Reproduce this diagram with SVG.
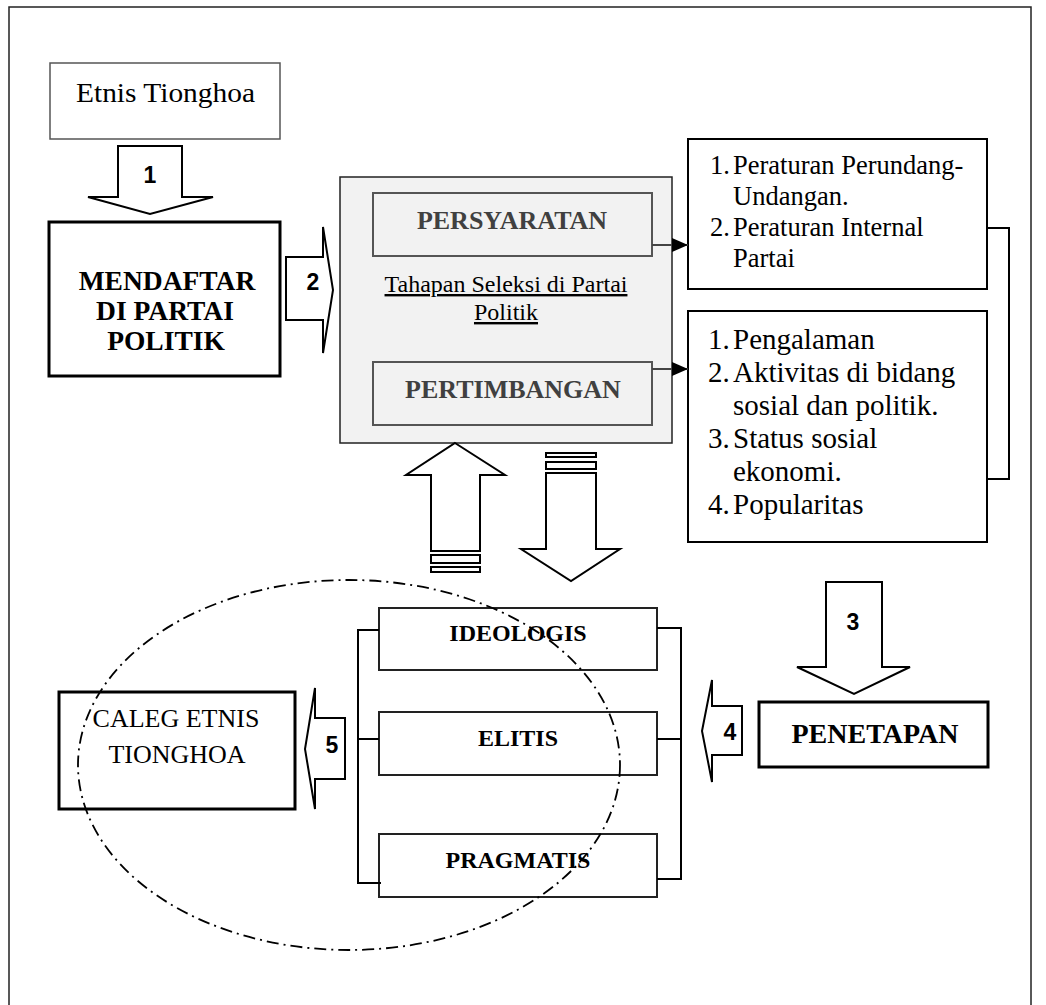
<svg xmlns="http://www.w3.org/2000/svg" width="1046" height="1005" viewBox="0 0 1046 1005">
<style>
.serif{font-family:"Liberation Serif","Times New Roman",serif;fill:#000}
.b{font-weight:bold}
.num{font-family:"Liberation Sans",Arial,sans-serif;font-weight:bold;font-size:23px;fill:#000;text-anchor:middle}
.mid{text-anchor:middle}
.box{fill:#fff;stroke:#000;stroke-width:2}
.thick{fill:#fff;stroke:#000;stroke-width:3}
.sub{fill:#f2f2f2;stroke:#555;stroke-width:2}
.barrow{fill:#fff;stroke:#000;stroke-width:2;stroke-linejoin:miter}
.ln{fill:none;stroke:#000;stroke-width:2}
.grayln{fill:none;stroke:#444;stroke-width:2}
</style>
<defs>
<marker id="tri" markerWidth="16" markerHeight="14" refX="16" refY="7" orient="auto" markerUnits="userSpaceOnUse">
<path d="M0,0 L16,7 L0,14 Z" fill="#000"/>
</marker>
</defs>
<rect x="9" y="7" width="1022" height="1010" fill="#fff" stroke="#222" stroke-width="1.5"/>

<g id="etnis">
<rect x="50" y="63" width="230" height="76" fill="#fff" stroke="#555" stroke-width="1.5"/>
<text class="serif" x="76" y="102" font-size="28" textLength="179" lengthAdjust="spacingAndGlyphs">Etnis Tionghoa</text>
</g>

<g id="mendaftar">
<rect class="thick" x="49" y="222" width="231" height="154"/>
<text class="serif b mid" x="167" y="290" font-size="27.5">MENDAFTAR</text>
<text class="serif b mid" x="165" y="320" font-size="27.5">DI PARTAI</text>
<text class="serif b mid" x="166" y="350" font-size="27.5">POLITIK</text>
</g>

<g id="seleksi">
<rect x="340" y="177" width="332" height="266" fill="#f2f2f2" stroke="#222" stroke-width="1.5"/>
<text class="serif mid" x="506" y="292" font-size="24" text-decoration="underline">Tahapan Seleksi di Partai</text>
<text class="serif mid" x="506" y="320" font-size="24" text-decoration="underline">Politik</text>
</g>

<g id="persyaratan">
<rect class="sub" x="373" y="193" width="279" height="63"/>
<text class="serif b mid" x="512" y="229" font-size="26" style="fill:#404040">PERSYARATAN</text>
</g>

<g id="pertimbangan">
<rect class="sub" x="373" y="362" width="279" height="63"/>
<text class="serif b mid" x="513" y="398" font-size="26" style="fill:#404040">PERTIMBANGAN</text>
</g>

<g id="list1">
<rect class="box" x="688" y="139" width="299" height="150"/>
<g class="serif" font-size="26.5">
<text x="710" y="174">1.</text><text x="733" y="174">Peraturan Perundang-</text>
<text x="733" y="205">Undangan.</text>
<text x="710" y="236">2.</text><text x="733" y="236">Peraturan Internal</text>
<text x="733" y="267">Partai</text>
</g>
</g>

<g id="list2">
<rect class="box" x="688" y="311" width="299" height="231"/>
<g class="serif" font-size="29">
<text x="708" y="349">1.</text><text x="733" y="349">Pengalaman</text>
<text x="708" y="382">2.</text><text x="733" y="382">Aktivitas di bidang</text>
<text x="733" y="415">sosial dan politik.</text>
<text x="708" y="448">3.</text><text x="733" y="448">Status sosial</text>
<text x="733" y="481">ekonomi.</text>
<text x="708" y="514">4.</text><text x="733" y="514">Popularitas</text>
</g>
</g>

<g id="ideologis">
<rect x="379" y="608" width="278" height="62" fill="#fff" stroke="#222" stroke-width="2"/>
<text class="serif b mid" x="518" y="641" font-size="24">IDEOLOGIS</text>
</g>
<g id="elitis">
<rect x="379" y="712" width="278" height="63" fill="#fff" stroke="#222" stroke-width="2"/>
<text class="serif b mid" x="518" y="746" font-size="24">ELITIS</text>
</g>
<g id="pragmatis">
<rect x="379" y="834" width="278" height="63" fill="#fff" stroke="#222" stroke-width="2"/>
<text class="serif b mid" x="518" y="868" font-size="24">PRAGMATIS</text>
</g>

<g id="penetapan">
<rect class="thick" x="759" y="702" width="229" height="65"/>
<text class="serif b mid" x="875" y="743" font-size="28">PENETAPAN</text>
</g>

<g id="caleg">
<rect class="thick" x="59" y="692" width="236" height="117"/>
<text class="serif mid" x="176" y="727" font-size="26">CALEG ETNIS</text>
<text class="serif mid" x="177" y="763" font-size="26">TIONGHOA</text>
</g>

<g id="connectors">
<polygon class="barrow" points="118,146 182,146 182,197 213,197 150,214 88,197 118,197"/>
<text class="num" x="150" y="183">1</text>
<polygon class="barrow" points="286,257 323,257 323,227 333,290 323,353 323,320 286,320"/>
<text class="num" x="313" y="290">2</text>
<polygon class="barrow" points="826,582 882,582 882,667 910,667 854,694 797,667 826,667"/>
<text class="num" x="853" y="630">3</text>
<polygon class="barrow" points="742,706 742,755 712,755 712,782 702,731 712,680 712,706"/>
<text class="num" x="730" y="740">4</text>
<polygon class="barrow" points="345,718 345,779 315,779 315,809 305,749 315,688 315,718"/>
<text class="num" x="332" y="753">5</text>

<polygon class="barrow" points="455,443 505,475 480,475 480,551 431,551 431,475 406,475"/>
<rect class="barrow" x="431" y="555" width="49" height="8"/>
<rect class="barrow" x="431" y="567" width="49" height="5"/>

<polygon class="barrow" points="546,473 596,473 596,549 620,549 571,581 521,549 546,549"/>
<rect class="barrow" x="546" y="462" width="50" height="7"/>
<rect class="barrow" x="546" y="453" width="50" height="4"/>

<line class="grayln" x1="652" y1="245" x2="688" y2="245" marker-end="url(#tri)"/>
<line class="grayln" x1="652" y1="369" x2="688" y2="369" marker-end="url(#tri)"/>

<path class="ln" d="M987,228 H1009 V479 H987"/>
<path class="ln" d="M379,630 H358 V883 H381 M358,739 H379"/>
<path class="ln" d="M657,628 H681 V879 H657 M657,739 H681"/>

<ellipse cx="349" cy="765" rx="271" ry="185" fill="none" stroke="#000" stroke-width="1.8" stroke-dasharray="12 5 2 5"/>
</g>
</svg>
